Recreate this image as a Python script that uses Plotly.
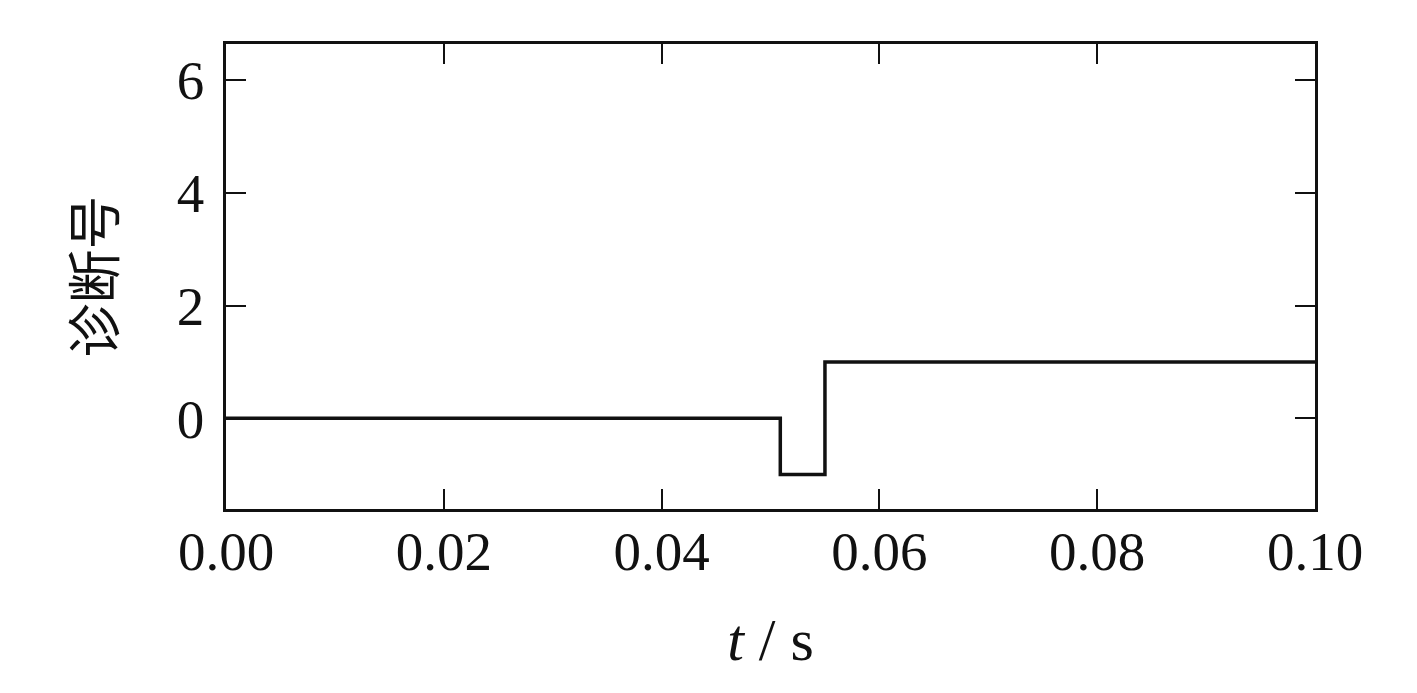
import plotly.graph_objects as go

t_vals = [0.0, 0.0509, 0.0550, 0.1]
signal_vals = [0, -1, 1, 1]
x_ticks = [0.00, 0.02, 0.04, 0.06, 0.08, 0.10]
x_tick_text = ["0.00", "0.02", "0.04", "0.06", "0.08", "0.10"]
y_ticks = [0, 2, 4, 6]
y_tick_text = ["0", "2", "4", "6"]

serif = "Liberation Serif, Times New Roman, serif"

fig = go.Figure()
fig.add_trace(go.Scatter(x=t_vals, y=signal_vals, mode="lines",
                         line=dict(color="#111111", width=3.5, shape="hv"),
                         showlegend=False))

axis_common = dict(showline=True, linecolor="#111111", linewidth=2.5, mirror="ticks",
                   ticks="inside", ticklen=20, tickwidth=2, tickcolor="#111111",
                   showgrid=False, zeroline=False,
                   tickfont=dict(family=serif, size=55, color="#111111"))

fig.update_xaxes(range=[0, 0.1], tickvals=x_ticks, ticktext=x_tick_text,
                 title=dict(text="<i>t</i>\u00a0/\u00a0s",
                            font=dict(family=serif, size=60, color="#111111"), standoff=38),
                 ticklabelstandoff=-8, **axis_common)
fig.update_yaxes(range=[-1.61, 6.64], tickvals=y_ticks, ticktext=y_tick_text,
                 title=dict(text="诊断号", font=dict(family="Noto Sans CJK SC", size=54, color="#111111"), standoff=44),
                 ticklabelstandoff=8, **axis_common)

fig.update_layout(width=1417, height=693, paper_bgcolor="white", plot_bgcolor="white",
                  margin=dict(l=218, r=110, t=36, b=192))
fig.write_html("out.html")
